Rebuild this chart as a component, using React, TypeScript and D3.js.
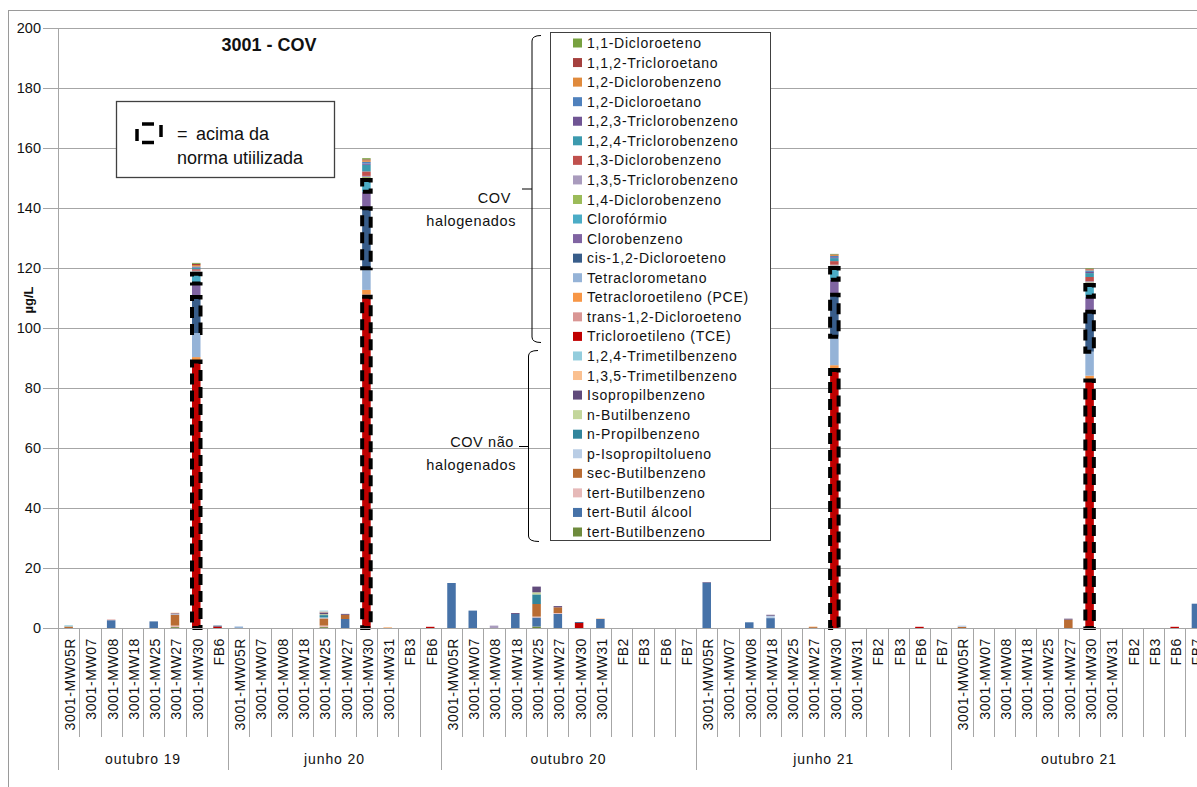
import * as d3 from 'd3';

// series, in legend order (top of legend = top of stack)
const seriesKeys = [
  'DCE11', 'TCA112', 'DCB12', 'DCA12', 'TCB123', 'TCB124', 'DCB13', 'TCB135', 'DCB14',
  'CLF', 'CLB', 'cDCE', 'TCM', 'PCE', 'tDCE', 'TCE',
  'TMB124', 'TMB135', 'IPB', 'nBB', 'nPB', 'pIPT', 'sBB', 'tBB', 'TBA', 'tBB2',
];
const seriesLabels = [
  '1,1-Dicloroeteno', '1,1,2-Tricloroetano', '1,2-Diclorobenzeno', '1,2-Dicloroetano',
  '1,2,3-Triclorobenzeno', '1,2,4-Triclorobenzeno', '1,3-Diclorobenzeno', '1,3,5-Triclorobenzeno',
  '1,4-Diclorobenzeno', 'Clorofórmio', 'Clorobenzeno', 'cis-1,2-Dicloroeteno', 'Tetraclorometano',
  'Tetracloroetileno (PCE)', 'trans-1,2-Dicloroeteno', 'Tricloroetileno (TCE)',
  '1,2,4-Trimetilbenzeno', '1,3,5-Trimetilbenzeno', 'Isopropilbenzeno', 'n-Butilbenzeno',
  'n-Propilbenzeno', 'p-Isopropiltolueno', 'sec-Butilbenzeno', 'tert-Butilbenzeno',
  'tert-Butil álcool', 'tert-Butilbenzeno',
];
const seriesColors = [
  '#77A13F', '#A5403E', '#E08A3C', '#4F81BD', '#705594', '#3C9AAE', '#C0504D', '#A99BBD',
  '#9BBB59', '#4BACC6', '#8064A2', '#385D8A', '#95B3D7', '#F79646', '#D99694', '#C00000',
  '#93CDDD', '#FAC090', '#604A7B', '#C3D69B', '#31859C', '#B9CDE5', '#B96C33', '#E6B9B8',
  '#4672A8', '#6E8B3D',
];

const periods = ['outubro 19', 'junho 20', 'outubro 20', 'junho 21', 'outubro 21'];

const samplesOut19 = ['3001-MW05R', '3001-MW07', '3001-MW08', '3001-MW18', '3001-MW25', '3001-MW27', '3001-MW30', 'FB6'];
const samplesJun20 = ['3001-MW05R', '3001-MW07', '3001-MW08', '3001-MW18', '3001-MW25', '3001-MW27', '3001-MW30', '3001-MW31', 'FB3', 'FB6'];
const samplesFull = ['3001-MW05R', '3001-MW07', '3001-MW08', '3001-MW18', '3001-MW25', '3001-MW27', '3001-MW30', '3001-MW31', 'FB2', 'FB3', 'FB6', 'FB7'];

type Vals = Record<string, number>;

const valuesOut19: Vals[] = [
  { sBB: 0.5, TMB124: 0.4 },
  {},
  { TBA: 2.6, tBB: 0.3 },
  {},
  { TBA: 2.2 },
  { tBB2: 0.3, tBB: 0.5, sBB: 3.6, pIPT: 0.2, IPB: 0.3, TMB135: 0.2 },
  { TCE: 88.8, tDCE: 0.5, PCE: 1.0, TCM: 8, cDCE: 12, CLB: 4.5, CLF: 3.3, DCB14: 0.7, TCB135: 0.3, DCB13: 0.5, TCB124: 0.4, TCB123: 0.2, DCA12: 0.3, DCB12: 0.5, TCA112: 0.4, DCE11: 0.3 },
  { TCE: 0.5, cDCE: 0.3 },
];
const valuesJun20: Vals[] = [
  { TCM: 0.5 },
  {},
  {},
  {},
  { tBB2: 0.3, tBB: 0.5, sBB: 2.4, pIPT: 0.3, nPB: 0.8, nBB: 0.3, IPB: 0.6, TMB135: 0.3, TMB124: 0.3 },
  { TBA: 3.0, sBB: 1.4, IPB: 0.3 },
  { TCE: 110.4, tDCE: 0.8, PCE: 1.5, TCM: 7.2, cDCE: 20, CLB: 5.5, CLF: 3.9, DCB14: 1.0, TCB135: 0.4, DCB13: 1.5, TCB124: 2.2, TCB123: 0.4, DCA12: 0.6, DCB12: 0.5, TCA112: 0.3, DCE11: 0.4 },
  { TMB135: 0.3 },
  {},
  { TCE: 0.4 },
];
const valuesOut20: Vals[] = [
  { TBA: 15 },
  { TBA: 5.8 },
  { TCB135: 0.8 },
  { TBA: 4.7, IPB: 0.3 },
  { tBB2: 0.5, TBA: 3.0, tBB: 0.3, sBB: 4.2, nPB: 3.2, nBB: 0.7, IPB: 1.9 },
  { TBA: 4.7, tBB: 0.3, sBB: 1.9, IPB: 0.4 },
  { TCE: 1.7, cDCE: 0.3 },
  { TBA: 3.0, TMB135: 0.2 },
  {}, {}, {}, {},
];
const valuesJun21: Vals[] = [
  { TBA: 15.1, IPB: 0.2 },
  {},
  { TBA: 1.9 },
  { TBA: 3.3, pIPT: 0.8, IPB: 0.3 },
  {},
  { sBB: 0.3, TMB135: 0.2 },
  { TCE: 86, tDCE: 0.4, PCE: 1.2, TCM: 9.5, cDCE: 14, CLB: 5, CLF: 3.9, DCB14: 0.8, TCB135: 0.3, DCB13: 1.2, TCB124: 1.0, TCB123: 0.3, DCA12: 0.4, DCB12: 0.3, TCA112: 0.2, DCE11: 0.2 },
  {}, {}, {},
  { TCE: 0.4 },
  {},
];
const valuesOut21: Vals[] = [
  { sBB: 0.4, pIPT: 0.4 },
  {}, {}, {}, {},
  { sBB: 2.8, IPB: 0.3 },
  { TCE: 82.5, tDCE: 0.4, PCE: 1.2, TCM: 8, cDCE: 13.3, CLB: 5, CLF: 3.9, DCB14: 0.9, TCB135: 0.4, DCB13: 1.4, TCB124: 1.3, TCB123: 0.4, DCA12: 0.5, DCB12: 0.3, TCA112: 0.2, DCE11: 0.2 },
  {}, {}, {},
  { TCE: 0.4 },
  { TBA: 8.1 },
];

// segments above the standard (dashed outline)
const aboveNormBars = ['outubro 19|3001-MW30', 'junho 20|3001-MW30', 'junho 21|3001-MW30', 'outubro 21|3001-MW30'];
const aboveNormSeries = ['TCE', 'cDCE', 'CLF'];

const yTicks = [0, 20, 40, 60, 80, 100, 120, 140, 160, 180, 200];

const groups = [
  { period: periods[0], samples: samplesOut19, values: valuesOut19 },
  { period: periods[1], samples: samplesJun20, values: valuesJun20 },
  { period: periods[2], samples: samplesFull, values: valuesOut20 },
  { period: periods[3], samples: samplesFull, values: valuesJun21 },
  { period: periods[4], samples: samplesFull, values: valuesOut21 },
];

const FONT = "'Liberation Sans', Arial, sans-serif";
const W = 1197;
const H = 787;
const STEP = 21.27;
const LEFT = 58;

export default function App() {
  const rows = groups.flatMap(g =>
    g.samples.map((s, i) => {
      const row: any = { key: `${g.period}|${s}`, sample: s, period: g.period };
      seriesKeys.forEach(k => { row[k] = g.values[i][k] || 0; });
      return row;
    })
  );

  const x = d3.scaleBand<string>()
    .domain(rows.map(r => r.key))
    .range([LEFT, LEFT + rows.length * STEP])
    .paddingInner(0.6)
    .paddingOuter(0.3);
  const y = d3.scaleLinear().domain([0, 200]).range([628, 28]);

  const stackOrder = [...seriesKeys].reverse();
  const layers = d3.stack<any>().keys(stackOrder)(rows);
  const colorOf = d3.scaleOrdinal<string, string>().domain(seriesKeys).range(seriesColors);

  const bottom = y(0);
  let idx = 0;
  const groupSpans = groups.map(g => {
    const start = idx;
    idx += g.samples.length;
    return { period: g.period, start, end: idx };
  });

  const edge = (i: number) => LEFT + i * x.step();

  const legendY = (i: number) => 43 + i * 19.56;

  return (
    <svg width={W} height={H} style={{ position: 'absolute', left: 0, top: 0, background: '#fff' }}
      fontFamily={FONT}>
      <rect x={0} y={0} width={W} height={H} fill="#fff" />
      {/* chart frame */}
      <rect x={8.5} y={10.5} width={W + 50} height={H + 50} fill="none" stroke="#9a9a9a" strokeWidth={1} />

      {/* gridlines + y axis */}
      {yTicks.map(t => (
        <g key={t}>
          <line x1={43} x2={W} y1={Math.round(y(t)) + 0.5} y2={Math.round(y(t)) + 0.5}
            stroke="#a6a6a6" strokeWidth={1} />
          <text x={41} y={y(t)} dy="0.35em" textAnchor="end" fontSize={14.5} fill="#111">{t}</text>
        </g>
      ))}
      <line x1={LEFT + 0.5} x2={LEFT + 0.5} y1={28} y2={770} stroke="#a6a6a6" />
      <text transform={`translate(33,300) rotate(-90)`} textAnchor="middle" fontSize={13}
        fontWeight="bold" fill="#111">µg/L</text>

      {/* category separators */}
      {d3.range(rows.length + 1).map(i => {
        const isGroup = groupSpans.some(g => g.start === i || g.end === i);
        return (
          <line key={i} x1={Math.round(edge(i)) + 0.5} x2={Math.round(edge(i)) + 0.5}
            y1={bottom} y2={isGroup ? 770 : 737} stroke="#a6a6a6" />
        );
      })}
      {rows.map(r => (
        <text key={r.key}
          transform={`translate(${x(r.key)! + x.bandwidth() / 2 + 1.5},638) rotate(-90)`}
          textAnchor="end" dy="0.35em" fontSize={14} letterSpacing={0.6} fill="#111">{r.sample}</text>
      ))}
      {groupSpans.map(g => (
        <text key={g.period} x={(edge(g.start) + edge(g.end)) / 2} y={764} textAnchor="middle"
          fontSize={14} letterSpacing={0.9} fill="#111">{g.period}</text>
      ))}

      {/* stacked bars */}
      {layers.map(layer => (
        <g key={layer.key} fill={colorOf(layer.key)}>
          {layer.map((d, i) => (d[1] - d[0] > 0 ? (
            <rect key={i} x={x(rows[i].key)} width={x.bandwidth()} y={y(d[1])}
              height={y(d[0]) - y(d[1])} />
          ) : null))}
        </g>
      ))}

      {/* above-norm dashed outlines */}
      {layers.filter(l => aboveNormSeries.includes(l.key)).map(layer => (
        <g key={'n' + layer.key}>
          {layer.map((d, i) => (aboveNormBars.includes(rows[i].key) && d[1] > d[0] ? (
            <rect key={i} x={x(rows[i].key)!} width={x.bandwidth()} y={y(d[1])}
              height={y(d[0]) - y(d[1])} fill="none" stroke="#000" strokeWidth={4}
              strokeDasharray="11,6" />
          ) : null))}
        </g>
      ))}
      <line x1={LEFT} x2={W} y1={bottom + 0.5} y2={bottom + 0.5} stroke="#a6a6a6" />

      {/* title */}
      <text x={269} y={51} textAnchor="middle" fontSize={18} fontWeight="bold" fill="#111">3001 - COV</text>

      {/* note box */}
      <rect x={116.5} y={101.5} width={218} height={76} fill="#fff" stroke="#404040" strokeWidth={1.3} />
      <g stroke="#000" strokeWidth={3.5}>
        <line x1={142} x2={154} y1={124} y2={124} />
        <line x1={142} x2={154} y1={142.5} y2={142.5} />
        <line x1={137} x2={137} y1={129} y2={141} />
        <line x1={161} x2={161} y1={125} y2={137} />
      </g>
      <text x={177} y={140} fontSize={18} fill="#111">=</text>
      <text x={196} y={140} fontSize={18} fill="#111">acima da</text>
      <text x={177} y={164} fontSize={18} fill="#111">norma utiilizada</text>

      {/* braces */}
      <g fill="none" stroke="#000" strokeWidth={1}>
        <path d="M541,35.5 Q532,35.5 532,41 V337 Q532,342.5 541,342.5 M532,189 H522" />
        <path d="M538,350.5 Q528.5,350.5 528.5,356 V536 Q528.5,541.5 539,541.5 M528.5,446.5 H519" />
      </g>
      <text x={511} y={203} textAnchor="end" fontSize={14.5} letterSpacing={0.6} fill="#111">COV</text>
      <text x={516} y={226} textAnchor="end" fontSize={14.5} letterSpacing={0.6} fill="#111">halogenados</text>
      <text x={514} y={447} textAnchor="end" fontSize={14.5} letterSpacing={0.6} fill="#111">COV não</text>
      <text x={516} y={470} textAnchor="end" fontSize={14.5} letterSpacing={0.6} fill="#111">halogenados</text>

      {/* legend */}
      <rect x={550.5} y={32.5} width={220} height={508} fill="#fff" stroke="#404040" strokeWidth={1} />
      {seriesKeys.map((k, i) => (
        <g key={k + i} transform={`translate(573,${legendY(i)})`}>
          <rect x={0} y={-4.5} width={9} height={9} fill={seriesColors[i]} />
          <text x={14} y={0} dy="0.36em" fontSize={14} letterSpacing={0.75} fill="#111">{seriesLabels[i]}</text>
        </g>
      ))}
    </svg>
  );
}
